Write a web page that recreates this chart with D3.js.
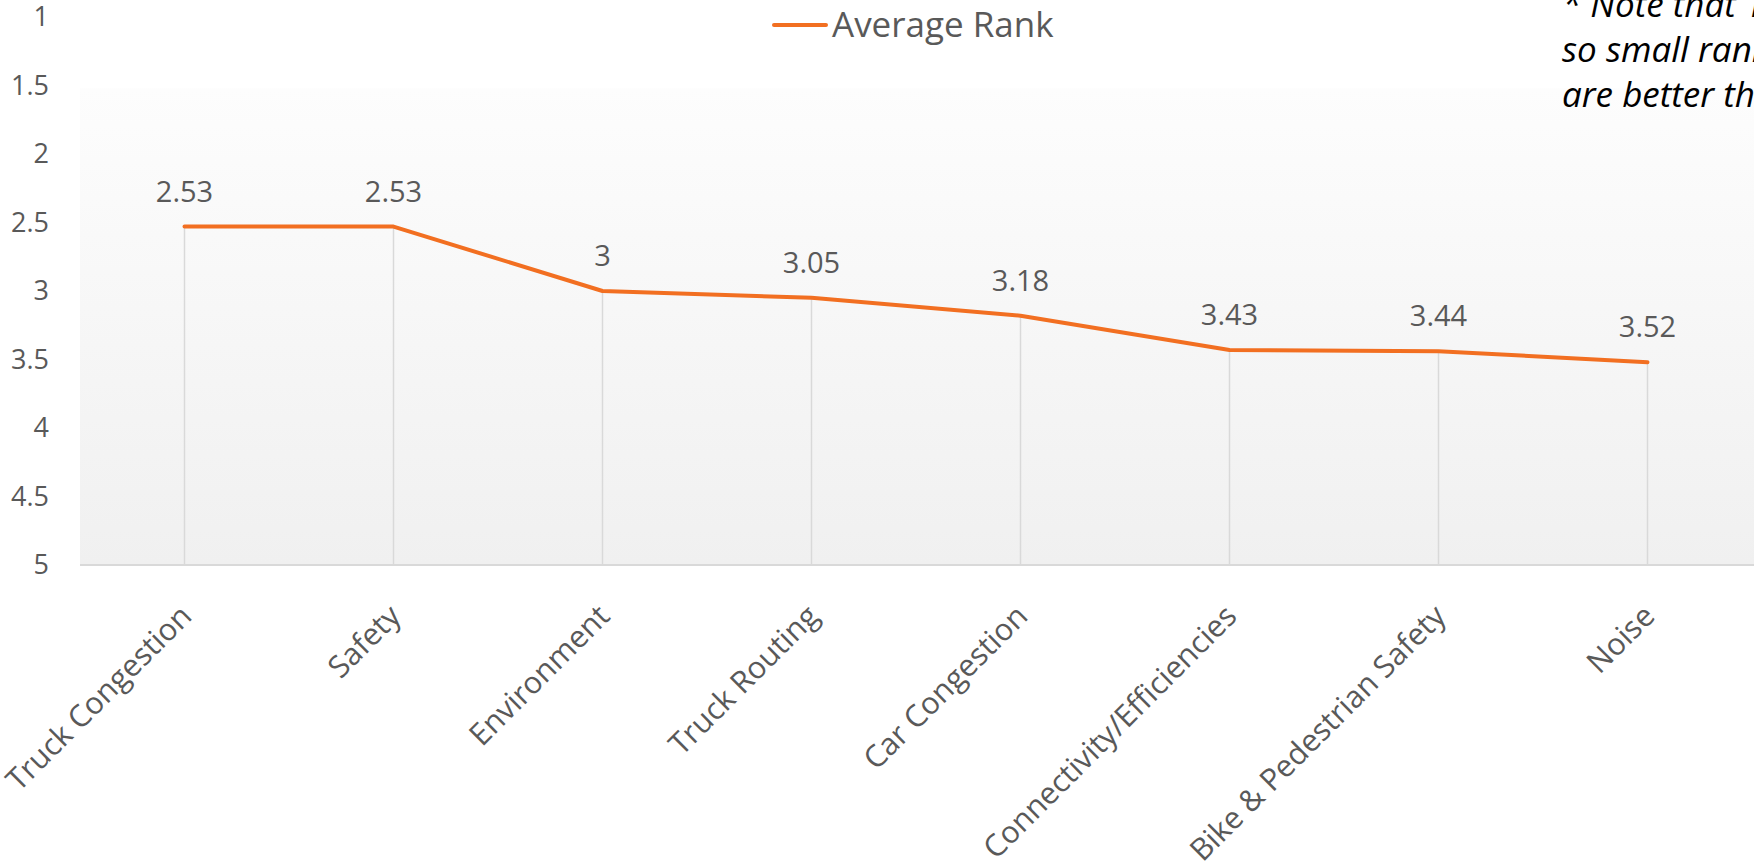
<!DOCTYPE html>
<html>
<head>
<meta charset="utf-8">
<script src="https://cdn.jsdelivr.net/npm/d3@7"></script>
<style>
  body { margin: 0; background: #fff; }
  svg { display: block; }
  text { font-family: 'Open Sans', 'Noto Sans', sans-serif; }
</style>
</head>
<body>
<div id="chart"></div>
<script>
let categories = [
  'Truck Congestion',
  'Safety',
  'Environment',
  'Truck Routing',
  'Car Congestion',
  'Connectivity/Efficiencies',
  'Bike & Pedestrian Safety',
  'Noise'
]
let averageRank = [2.53, 2.53, 3, 3.05, 3.18, 3.43, 3.44, 3.52]
let yTicks = [1, 1.5, 2, 2.5, 3, 3.5, 4, 4.5, 5]
let seriesName = 'Average Rank'
let noteLines = [
  '* Note that 1 is the highest rank,',
  'so small rankings',
  'are better than large ones.'
]

let width = 1754
let height = 866
let plot = { left: 80, right: 1752, top: 17, bottom: 565 }

let svg = d3
  .select('#chart')
  .append('svg')
  .attr('width', width)
  .attr('height', height)

let data = categories.map((c, i) => ({ name: c, value: averageRank[i] }))

let xPositionScale = d3
  .scaleBand()
  .domain(categories)
  .range([plot.left, plot.right])
let yPositionScale = d3
  .scaleLinear()
  .domain([1, 5])
  .range([plot.top, plot.bottom])

let xc = d => xPositionScale(d) + xPositionScale.bandwidth() / 2

// plot background gradient
let grad = svg
  .append('defs')
  .append('linearGradient')
  .attr('id', 'bg')
  .attr('x1', 0)
  .attr('y1', 0)
  .attr('x2', 0)
  .attr('y2', 1)
grad.append('stop').attr('offset', '0%').attr('stop-color', '#fdfdfd')
grad.append('stop').attr('offset', '100%').attr('stop-color', '#f0f0f0')

svg
  .append('rect')
  .attr('x', plot.left)
  .attr('y', yPositionScale(1.52))
  .attr('width', width - plot.left)
  .attr('height', yPositionScale(5) - yPositionScale(1.52))
  .attr('fill', 'url(#bg)')

// drop lines
svg
  .selectAll('.drop-line')
  .data(data)
  .enter()
  .append('line')
  .attr('class', 'drop-line')
  .attr('x1', d => xc(d.name))
  .attr('x2', d => xc(d.name))
  .attr('y1', d => yPositionScale(d.value))
  .attr('y2', yPositionScale(5))
  .attr('stroke', '#d9d9d9')
  .attr('stroke-width', 1.5)

// x axis line
svg
  .append('line')
  .attr('x1', plot.left)
  .attr('x2', width)
  .attr('y1', yPositionScale(5))
  .attr('y2', yPositionScale(5))
  .attr('stroke', '#d9d9d9')
  .attr('stroke-width', 2)

// y axis labels
let yAxis = d3
  .axisLeft(yPositionScale)
  .tickValues(yTicks)
  .tickSize(0)
  .tickPadding(0)
  .tickFormat(d => String(d))
let yg = svg
  .append('g')
  .attr('class', 'axis y-axis')
  .attr('transform', 'translate(49,0)')
  .call(yAxis)
yg.select('.domain').remove()
yg.selectAll('text')
  .attr('fill', '#595959')
  .attr('font-size', 27)
  .attr('font-family', "'Open Sans', sans-serif")

// x axis labels
let xAxis = d3.axisBottom(xPositionScale).tickSize(0)
let xg = svg
  .append('g')
  .attr('class', 'axis x-axis')
  .attr('transform', 'translate(0,' + yPositionScale(5) + ')')
  .call(xAxis)
xg.select('.domain').remove()
xg.selectAll('text')
  .attr('fill', '#595959')
  .attr('font-size', 30.5)
  .attr('font-family', "'Open Sans', sans-serif")
  .attr('text-anchor', 'end')
  .attr('dy', 0)
  .attr('y', 0)
  .attr('transform', 'translate(9,53) rotate(-45)')

// line
let line = d3
  .line()
  .x(d => xc(d.name))
  .y(d => yPositionScale(d.value))

svg
  .append('path')
  .datum(data)
  .attr('d', line)
  .attr('fill', 'none')
  .attr('stroke', '#f26f21')
  .attr('stroke-width', 4)
  .attr('stroke-linejoin', 'round')
  .attr('stroke-linecap', 'round')

// data labels
svg
  .selectAll('.value-label')
  .data(data)
  .enter()
  .append('text')
  .attr('class', 'value-label')
  .attr('x', d => xc(d.name))
  .attr('y', d => yPositionScale(d.value) - 25)
  .attr('text-anchor', 'middle')
  .attr('font-size', 29)
  .attr('fill', '#595959')
  .text(d => d.value)

// legend
svg
  .append('line')
  .attr('x1', 774)
  .attr('x2', 826)
  .attr('y1', 25)
  .attr('y2', 25)
  .attr('stroke', '#f26f21')
  .attr('stroke-width', 4)
  .attr('stroke-linecap', 'round')
svg
  .append('text')
  .attr('x', 832)
  .attr('y', 37)
  .attr('font-size', 35)
  .attr('fill', '#595959')
  .text(seriesName)

// note
svg
  .selectAll('.note')
  .data(noteLines)
  .enter()
  .append('text')
  .attr('class', 'note')
  .attr('x', 1562)
  .attr('y', (d, i) => 17 + i * 45)
  .attr('font-size', 35)
  .attr('font-style', 'italic')
  .attr('fill', '#000')
  .text(d => d)
</script>
</body>
</html>
